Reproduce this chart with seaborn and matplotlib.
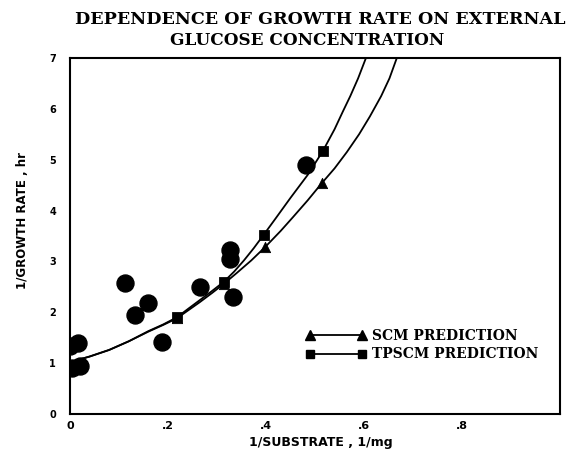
import matplotlib
matplotlib.use("Agg")
import matplotlib.pyplot as plt
import seaborn as sns
import pandas as pd
from matplotlib.lines import Line2D

# experimental points (circles)
exp_x = [0.0, 0.016, 0.005, 0.02, 0.112, 0.133, 0.16, 0.188, 0.265, 0.327, 0.327, 0.333, 0.482]
exp_y = [1.34, 1.39, 0.9, 0.95, 2.57, 1.95, 2.18, 1.42, 2.5, 3.22, 3.05, 2.3, 4.89]

# SCM prediction curve (traced) and its marked points
scm_x = [0.0, 0.04, 0.08, 0.12, 0.16, 0.19, 0.218, 0.24, 0.265, 0.29, 0.314, 0.34, 0.37, 0.398,
         0.43, 0.455, 0.485, 0.514, 0.54, 0.565, 0.59, 0.612, 0.635, 0.652, 0.667]
scm_y = [1.02, 1.13, 1.26, 1.43, 1.62, 1.75, 1.88, 2.03, 2.2, 2.38, 2.56, 2.77, 3.02, 3.28,
         3.6, 3.87, 4.2, 4.54, 4.83, 5.15, 5.5, 5.85, 6.25, 6.6, 7.0]
scm_mx = [0.218, 0.314, 0.398, 0.514]
scm_my = [1.88, 2.56, 3.28, 4.54]

# TPSCM prediction curve (traced) and its marked points
tp_x = [0.0, 0.04, 0.08, 0.12, 0.16, 0.19, 0.218, 0.24, 0.265, 0.29, 0.314, 0.335, 0.355, 0.375,
        0.395, 0.42, 0.45, 0.485, 0.516, 0.54, 0.557, 0.572, 0.588, 0.604]
tp_y = [1.02, 1.13, 1.26, 1.43, 1.63, 1.76, 1.9, 2.06, 2.24, 2.42, 2.6, 2.8, 3.02, 3.26,
        3.52, 3.85, 4.25, 4.7, 5.17, 5.6, 5.95, 6.25, 6.6, 7.0]
tp_mx = [0.218, 0.314, 0.395, 0.516]
tp_my = [1.9, 2.6, 3.52, 5.17]

x_ticks = [0, 0.2, 0.4, 0.6, 0.8]
x_ticklabels = ["0", ".2", ".4", ".6", ".8"]
y_ticks = [0, 1, 2, 3, 4, 5, 6, 7]

sns.set_style("white")
plt.rcParams["font.family"] = ["Liberation Sans Narrow", "DejaVu Sans"]
plt.rcParams["text.color"] = "black"
plt.rcParams["xtick.color"] = "black"
plt.rcParams["ytick.color"] = "black"
plt.rcParams["axes.labelcolor"] = "black"

fig = plt.figure(figsize=(5.7, 4.55), dpi=100)
ax = fig.add_axes([0.1228, 0.0901, 0.8596, 0.7824])

exp_df = pd.DataFrame({"x": exp_x, "y": exp_y})
scm_df = pd.DataFrame({"x": scm_x, "y": scm_y})
tp_df = pd.DataFrame({"x": tp_x, "y": tp_y})

sns.lineplot(data=scm_df, x="x", y="y", sort=False, color="black", lw=1.3, ax=ax)
sns.lineplot(data=tp_df, x="x", y="y", sort=False, color="black", lw=1.3, ax=ax)
sns.scatterplot(x=scm_mx, y=scm_my, marker="^", s=55, color="black", edgecolor="black", ax=ax, zorder=3)
sns.scatterplot(x=tp_mx, y=tp_my, marker="s", s=50, color="black", edgecolor="black", ax=ax, zorder=4)
sns.scatterplot(data=exp_df, x="x", y="y", marker="o", s=150, color="black", edgecolor="black", ax=ax, zorder=5)

ax.set_xlim(0, 1.0)
ax.set_ylim(0, 7)
ax.set_xticks(x_ticks)
ax.set_xticklabels(x_ticklabels)
ax.set_yticks(y_ticks)
ax.set_xlabel("")
ax.set_ylabel("")
for sp in ax.spines.values():
    sp.set_visible(True)
    sp.set_color("black")
    sp.set_linewidth(1.5)
ax.tick_params(axis="x", direction="inout", length=8, width=1.3, labelsize=8, pad=1)
ax.tick_params(axis="y", direction="out", length=7, width=1.3, labelsize=7, pad=3)
for lab in ax.get_xticklabels() + ax.get_yticklabels():
    lab.set_fontweight("bold")

handles = [
    Line2D([0], [0], color="black", lw=1.3, marker="^", markersize=7),
    Line2D([0], [0], color="black", lw=1.3, marker="s", markersize=6),
]
ax.legend(handles, ["SCM PREDICTION", "TPSCM PREDICTION"], numpoints=2, handlelength=4.4,
          frameon=False, loc="upper left", bbox_to_anchor=(0.455, 0.275), handletextpad=0.4,
          labelspacing=0.35, prop={"family": ["DejaVu Serif"], "weight": "bold", "size": 10})

serif = ["DejaVu Serif"]
fig.text(0.561, 0.958, "DEPENDENCE OF GROWTH RATE ON EXTERNAL", ha="center", va="center",
         family=serif, fontweight="bold", fontsize=12.6)
fig.text(0.539, 0.91, "GLUCOSE CONCENTRATION", ha="center", va="center",
         family=serif, fontweight="bold", fontsize=12.2)
fig.text(0.563, 0.028, "1/SUBSTRATE , 1/mg", ha="center", va="center",
         fontweight="bold", fontsize=9)
fig.text(0.039, 0.516, "1/GROWTH RATE , hr", ha="center", va="center", rotation=90,
         fontweight="bold", fontsize=8.5)

fig.savefig("out.png", dpi=100)
